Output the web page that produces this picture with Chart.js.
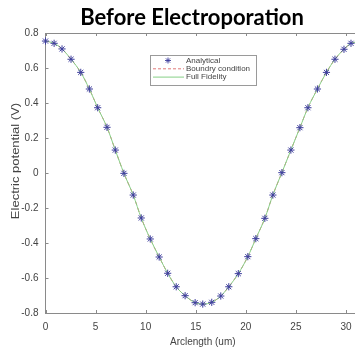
<!DOCTYPE html>
<html><head><meta charset="utf-8">
<script src="https://cdn.jsdelivr.net/npm/chart.js@4"></script>
<style>html,body{margin:0;padding:0;overflow:hidden;background:#fff;width:355px;height:352px}</style>
</head><body>
<canvas id="c" width="365" height="352" style="display:block;width:365px;height:352px"></canvas>
<script>
const titleText = "Before Electroporation";
const xLabel = "Arclength (um)";
const yLabel = "Electric potential (V)";
const legendLabels = ["Analytical", "Boundry condition", "Full Fidelity"];
const xTicks = [0, 5, 10, 15, 20, 25, 30];
const yTicks = [-0.8, -0.6, -0.4, -0.2, 0, 0.2, 0.4, 0.6, 0.8];

const arclength = [0, 0.86, 1.65, 2.55, 3.52, 4.38, 5.21, 6.14, 6.97, 7.83, 8.76, 9.56, 10.46, 11.35, 12.2, 13.05, 13.94, 14.94, 15.7, 16.6, 17.5, 18.3, 19.25, 20.2, 21.0, 21.9, 22.7, 23.6, 24.5, 25.4, 26.2, 27.15, 28.05, 28.9, 29.8, 30.5, 31.4];
const analytical = [0.754, 0.741, 0.709, 0.65, 0.575, 0.48, 0.373, 0.261, 0.131, -0.002, -0.126, -0.257, -0.377, -0.48, -0.573, -0.65, -0.701, -0.741, -0.749, -0.739, -0.703, -0.65, -0.575, -0.478, -0.375, -0.259, -0.126, 0.002, 0.131, 0.259, 0.373, 0.48, 0.575, 0.65, 0.707, 0.741, 0.75];
const boundaryCondition = [0.754, 0.741, 0.709, 0.65, 0.575, 0.48, 0.373, 0.261, 0.131, -0.002, -0.126, -0.257, -0.377, -0.48, -0.573, -0.65, -0.701, -0.741, -0.749, -0.739, -0.703, -0.65, -0.575, -0.478, -0.375, -0.259, -0.126, 0.002, 0.131, 0.259, 0.373, 0.48, 0.575, 0.65, 0.707, 0.741, 0.75];
const fullFidelity = [0.754, 0.741, 0.709, 0.65, 0.575, 0.48, 0.373, 0.261, 0.131, -0.002, -0.126, -0.257, -0.377, -0.48, -0.573, -0.65, -0.701, -0.741, -0.749, -0.739, -0.703, -0.65, -0.575, -0.478, -0.375, -0.259, -0.126, 0.002, 0.131, 0.259, 0.373, 0.48, 0.575, 0.65, 0.707, 0.741, 0.75];

const pts = arr => arclength.map((x, i) => ({x: x, y: arr[i]}));

const COL_MARK = '#3d3d9c';
const COL_DASH = '#e07a7a';
const COL_GREEN = '#86d086';
const COL_AXIS = '#8a8a8a';
const COL_TEXT = '#444444';

const decorPlugin = {
  id: 'decor',
  afterDraw(chart) {
    const ctx = chart.ctx, a = chart.chartArea;
    const xs = chart.scales.x, ys = chart.scales.y;
    ctx.save();
    ctx.strokeStyle = COL_AXIS; ctx.lineWidth = 1;
    ctx.beginPath(); ctx.moveTo(a.left, a.top + 0.5); ctx.lineTo(a.right, a.top + 0.5); ctx.stroke();
    ctx.beginPath(); ctx.moveTo(a.right - 0.5, a.top); ctx.lineTo(a.right - 0.5, a.bottom); ctx.stroke();
    ctx.beginPath();
    xTicks.forEach(v => {
      const p = Math.round(xs.getPixelForValue(v)) + 0.5;
      ctx.moveTo(p, a.bottom); ctx.lineTo(p, a.bottom - 3);
      ctx.moveTo(p, a.top); ctx.lineTo(p, a.top + 3);
    });
    yTicks.forEach(v => {
      const p = Math.round(ys.getPixelForValue(v)) + 0.5;
      ctx.moveTo(a.left, p); ctx.lineTo(a.left + 3, p);
      ctx.moveTo(a.right, p); ctx.lineTo(a.right - 3, p);
    });
    ctx.stroke();
    // title
    ctx.fillStyle = '#000';
    ctx.font = 'bold 22px Lato, "Open Sans", sans-serif';
    ctx.textAlign = 'center'; ctx.textBaseline = 'alphabetic';
    ctx.fillText(titleText, 192, 24.5);
    // y axis title
    ctx.save();
    ctx.translate(16, 161);
    ctx.rotate(-Math.PI / 2);
    ctx.scale(1.3, 1);
    ctx.font = '10px "Liberation Sans", Arial, sans-serif';
    ctx.fillStyle = COL_TEXT;
    ctx.textAlign = 'center'; ctx.textBaseline = 'middle';
    ctx.fillText(yLabel, 0, 0);
    ctx.restore();
    // legend
    const bx = 150.5, by = 55.5, bw = 106, bh = 30;
    ctx.fillStyle = '#fff';
    ctx.fillRect(bx, by, bw, bh);
    ctx.strokeStyle = '#9a9a9a'; ctx.lineWidth = 1;
    ctx.strokeRect(bx, by, bw, bh);
    const rows = [60.5, 68.8, 77.1];
    ctx.strokeStyle = COL_MARK; ctx.lineWidth = 0.9;
    ctx.beginPath();
    const r = 3, cx = 168, cy = rows[0];
    ctx.moveTo(cx - r, cy); ctx.lineTo(cx + r, cy);
    ctx.moveTo(cx, cy - r); ctx.lineTo(cx, cy + r);
    const d = r * 0.707;
    ctx.moveTo(cx - d, cy - d); ctx.lineTo(cx + d, cy + d);
    ctx.moveTo(cx - d, cy + d); ctx.lineTo(cx + d, cy - d);
    ctx.stroke();
    ctx.lineWidth = 1;
    ctx.strokeStyle = COL_DASH; ctx.setLineDash([3, 2]);
    ctx.beginPath(); ctx.moveTo(153, rows[1]); ctx.lineTo(184, rows[1]); ctx.stroke();
    ctx.setLineDash([]);
    ctx.strokeStyle = COL_GREEN;
    ctx.beginPath(); ctx.moveTo(153, rows[2]); ctx.lineTo(184, rows[2]); ctx.stroke();
    ctx.fillStyle = COL_TEXT;
    ctx.font = '8px "Liberation Sans", Arial, sans-serif';
    ctx.textAlign = 'left'; ctx.textBaseline = 'middle';
    legendLabels.forEach((t, i) => ctx.fillText(t, 186, rows[i]));
    ctx.restore();
  }
};

new Chart(document.getElementById('c'), {
  type: 'scatter',
  data: {
    datasets: [
      {
        label: legendLabels[0], data: pts(analytical), showLine: false,
        pointStyle: 'star', pointRadius: 3.6, pointBorderWidth: 1,
        borderColor: COL_MARK, backgroundColor: COL_MARK, order: 0, clip: false
      },
      {
        label: legendLabels[1], data: pts(boundaryCondition), showLine: true,
        borderColor: COL_DASH, borderWidth: 1, borderDash: [4, 3], pointRadius: 0,
        tension: 0.4, cubicInterpolationMode: 'monotone', order: 2
      },
      {
        label: legendLabels[2], data: pts(fullFidelity), showLine: true,
        borderColor: COL_GREEN, borderWidth: 1, pointRadius: 0,
        tension: 0.4, cubicInterpolationMode: 'monotone', order: 1
      }
    ]
  },
  options: {
    responsive: false, animation: false, devicePixelRatio: 1,
    layout: {padding: {top: 33, right: 3, left: 0, bottom: 0}},
    plugins: {legend: {display: false}, title: {display: false}, tooltip: {enabled: false}},
    scales: {
      x: {
        type: 'linear', min: 0, max: 31.4,
        afterFit: s => { s.height = 39; },
        afterBuildTicks: s => { s.ticks = xTicks.map(v => ({value: v})); },
        ticks: {color: COL_TEXT, font: {family: '"Liberation Sans", Arial, sans-serif', size: 10}, padding: 8, maxRotation: 0, autoSkip: false},
        grid: {display: true, drawOnChartArea: false, drawTicks: false},
        border: {color: COL_AXIS},
        title: {display: true, text: xLabel, color: COL_TEXT, font: {family: '"Liberation Sans", Arial, sans-serif', size: 10}, padding: {top: 0, bottom: 4}}
      },
      y: {
        type: 'linear', min: -0.8, max: 0.8,
        afterFit: s => { s.width = 45.5; },
        afterBuildTicks: s => { s.ticks = yTicks.map(v => ({value: v})); },
        ticks: {color: COL_TEXT, font: {family: '"Liberation Sans", Arial, sans-serif', size: 10}, padding: 7,
          callback: v => String(Number(Number(v).toFixed(1)))},
        grid: {display: true, drawOnChartArea: false, drawTicks: false},
        border: {color: COL_AXIS}
      }
    }
  },
  plugins: [decorPlugin]
});
</script>
</body></html>
